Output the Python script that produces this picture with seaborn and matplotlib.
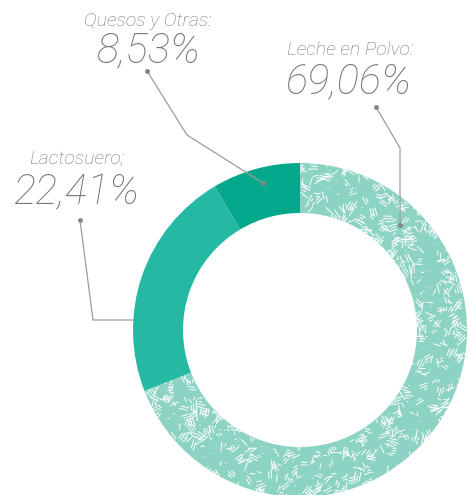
import numpy as np
import matplotlib
matplotlib.use("Agg")
import matplotlib.pyplot as plt
import seaborn as sns
from matplotlib.collections import LineCollection

# data
categories = ["Leche en Polvo:", "Lactosuero;", "Quesos y Otras:"]
shares = [69.06, 22.41, 8.53]
pct_labels = ["69,06%", "22,41%", "8,53%"]
colors = ["#8dd3c4", "#25b9a4", "#04a98b"]

sns.set_theme(style="white")
plt.rcParams['font.family'] = ['Roboto', 'DejaVu Sans']

W, H = 470, 495
fig = plt.figure(figsize=(4.7, 4.95), dpi=100)
ax = fig.add_axes([0, 0, 1, 1])

cx, cy = 300, H - 330
wedges, _ = ax.pie(shares, colors=colors, startangle=90, counterclock=False,
                   radius=167, center=(cx, cy),
                   wedgeprops=dict(width=50, linewidth=0))
ax.set_xlim(0, W)
ax.set_ylim(0, H)
ax.axis('off')

# white dash texture on the "Leche en Polvo" slice
rng = np.random.default_rng(11)
segs = []
for _ in range(1500):
    px, py = rng.uniform(cx - 172, cx + 172), rng.uniform(cy - 172, cy + 172)
    ang = rng.uniform(0, np.pi)
    d = np.array([np.cos(ang), np.sin(ang)])
    p = np.array([-d[1], d[0]])
    for k in range(rng.integers(1, 4)):
        ln = rng.uniform(3, 10)
        c = np.array([px, py]) + p * 2.6 * k + d * rng.uniform(-2.5, 2.5)
        segs.append([c - d * ln / 2, c + d * ln / 2])
for _ in range(500):
    px, py = rng.uniform(cx - 172, cx + 172), rng.uniform(cy - 172, cy + 172)
    segs.append([(px, py), (px + 1.2, py)])
tex = LineCollection(segs, colors='white', linewidths=0.7, capstyle='butt')
ax.add_collection(tex)
tex.set_clip_path(wedges[0])

# labels and leader lines (pixel layout, y from top)
txt_color = "#787878"
line_color = "#9c9c9c"
label_pos = [(287, 55, 'left'), (77, 163, 'center'), (148, 26, 'center')]
value_pos = [(285, 93, 'left'), (77, 204, 'center'), (148, 62, 'center')]
leaders = [[(376, 107), (400, 148), (400, 225)],
           [(80, 220), (93, 320), (133, 320)],
           [(147, 71), (187, 135), (263, 183)]]

for i in range(len(categories)):
    x, y, ha = label_pos[i]
    ax.text(x, H - y, categories[i], ha=ha, va='baseline', fontsize=14,
            fontstyle='italic', fontweight='light', color=txt_color)
    x, y, ha = value_pos[i]
    ax.text(x, H - y, pct_labels[i], ha=ha, va='baseline', fontsize=30,
            fontstyle='italic', fontweight='light', color=txt_color)
    pts = np.array(leaders[i], dtype=float)
    ax.plot(pts[:, 0], H - pts[:, 1], color=line_color, lw=0.9, solid_joinstyle='miter')
    ax.plot(pts[0, 0], H - pts[0, 1], 'o', color="#858585", ms=3.5, mec='none')
    if i != 1:
        ax.plot(pts[-1, 0], H - pts[-1, 1], 'o', color="#858585", ms=3.5, mec='none')

fig.savefig("out.png", dpi=100)
